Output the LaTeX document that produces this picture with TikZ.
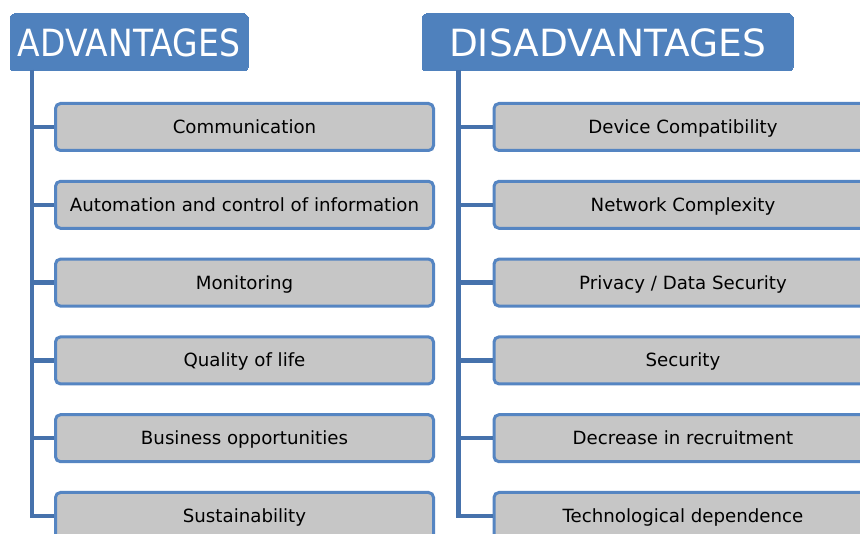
\documentclass[tikz,border=0pt]{standalone}
\usepackage{graphicx}
\usepackage{fontspec}
\setmainfont{DejaVu Sans}
\usepackage{tikz}

\definecolor{headblue}{HTML}{4F81BD}
\definecolor{edgeblue}{HTML}{5585C2}
\definecolor{trunkblue}{HTML}{4672AC}
\definecolor{itemgray}{HTML}{C6C6C6}

\begin{document}
\begin{tikzpicture}[x=1pt,y=-1pt,
	header/.style={fill=headblue,draw=headblue,line width=0pt,rounded corners=4pt,
		inner sep=0pt,text=white,font=\fontsize{37.5}{40}\selectfont,
		text height=27.3pt,text depth=0pt,minimum height=57pt},
	item/.style={fill=itemgray,draw=edgeblue,line width=3pt,rounded corners=5pt,
		inner sep=0pt,minimum width=378pt,minimum height=47pt,
		font=\fontsize{18.2}{20}\selectfont,text height=13.2pt,text depth=0pt},
	branch/.style={draw=trunkblue,line width=4.5pt}]

		\clip (0,0) rectangle (860,534);
		\fill[white] (0,0) rectangle (860,534);

		% headers
		\node[header,minimum width=238pt] (adv) at (129,42.5) {\scalebox{0.88}[1]{ADVANTAGES}};
		\node[header,minimum width=371pt] (dis) at (607.5,42.5) {DISADVANTAGES};

		% advantages
		\node[item] (a1) at (244.5,127.0) {Communication};
		\node[item] (a2) at (244.5,204.8) {Automation and control of information};
		\node[item] (a3) at (244.5,282.6) {Monitoring};
		\node[item] (a4) at (244.5,360.4) {Quality of life};
		\node[item] (a5) at (244.5,438.2) {Business opportunities};
		\node[item] (a6) at (244.5,516.0) {Sustainability};

		% disadvantages
		\node[item] (d1) at (683,127.0) {Device Compatibility};
		\node[item] (d2) at (683,204.8) {Network Complexity};
		\node[item] (d3) at (683,282.6) {Privacy / Data Security};
		\node[item] (d4) at (683,360.4) {Security};
		\node[item] (d5) at (683,438.2) {Decrease in recruitment};
		\node[item] (d6) at (683,516.0) {Technological dependence};

		\coordinate (lt) at (32,70);
		\coordinate (rt) at (458.5,70);

		\draw[branch] (lt) |- (a6.west);
		\foreach \i in {1,...,5} {\draw[branch] (lt |- a\i.west) -- (a\i.west);}
		\draw[branch] (rt) |- (d6.west);
		\foreach \i in {1,...,5} {\draw[branch] (rt |- d\i.west) -- (d\i.west);}

	\end{tikzpicture}
\end{document}
